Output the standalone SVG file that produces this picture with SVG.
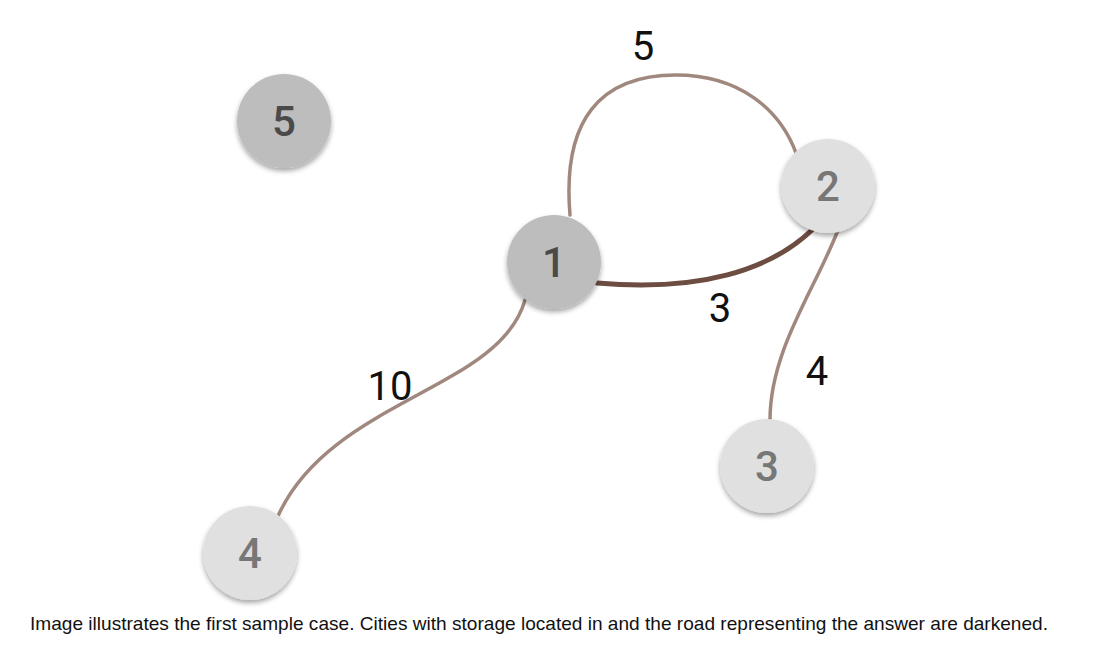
<svg xmlns="http://www.w3.org/2000/svg" width="1100" height="667" viewBox="0 0 1100 667">
<style>
.edge{fill:none;stroke:#a1887f;stroke-width:3.5;stroke-linecap:round}
.dark-edge{fill:none;stroke:#6d4c41;stroke-width:5;stroke-linecap:round}
.n-dark{fill:#bdbdbd}
.n-light{fill:#e0e0e0}
.nt{font-family:Roboto,"Liberation Sans",sans-serif;font-size:42px;font-weight:500;text-anchor:middle;dominant-baseline:central}
.nt-dark{fill:#4a4a4a}
.nt-light{fill:#777777}
.lbl{font-family:Roboto,"Liberation Sans",sans-serif;font-size:40px;fill:#111;text-anchor:middle}
.cap{font-family:"Liberation Sans",Arial,sans-serif;font-size:19px;fill:#111}
</style>
<defs>
<filter id="sh" x="-30%" y="-30%" width="160%" height="170%">
<feDropShadow dx="0" dy="3" stdDeviation="2.5" flood-color="#000" flood-opacity="0.35"/>
</filter>
</defs>
<rect width="1100" height="667" fill="#fff"/>
<g id="connectors">
<path class="edge" d="M570,215 C562,120 600,75 676,75 C740,75 780,110 796,153"/>
<path class="dark-edge" d="M597,283 C700,292 770,270 812,230"/>
<path class="edge" d="M838,230 C815,290 770,350 770,420"/>
<path class="edge" d="M525,300 C500,390 330,400 278,516"/>
</g>
<g id="labels">
<text class="lbl" x="643" y="60">5</text>
<text class="lbl" x="720" y="322">3</text>
<text class="lbl" x="817" y="385">4</text>
<text class="lbl" x="390" y="400">10</text>
</g>
<g id="node-5"><circle class="n-dark" cx="284" cy="121" r="47" filter="url(#sh)"/><text class="nt nt-dark" x="284" y="121">5</text></g>
<g id="node-1"><circle class="n-dark" cx="554" cy="262" r="47" filter="url(#sh)"/><text class="nt nt-dark" x="554" y="262">1</text></g>
<g id="node-2"><circle class="n-light" cx="828" cy="186" r="47" filter="url(#sh)"/><text class="nt nt-light" x="828" y="186">2</text></g>
<g id="node-3"><circle class="n-light" cx="767" cy="466" r="47" filter="url(#sh)"/><text class="nt nt-light" x="767" y="466">3</text></g>
<g id="node-4"><circle class="n-light" cx="250" cy="553" r="47" filter="url(#sh)"/><text class="nt nt-light" x="250" y="553">4</text></g>
<text class="cap" x="30" y="630" textLength="1018" lengthAdjust="spacingAndGlyphs">Image illustrates the first sample case. Cities with storage located in and the road representing the answer are darkened.</text>
</svg>
